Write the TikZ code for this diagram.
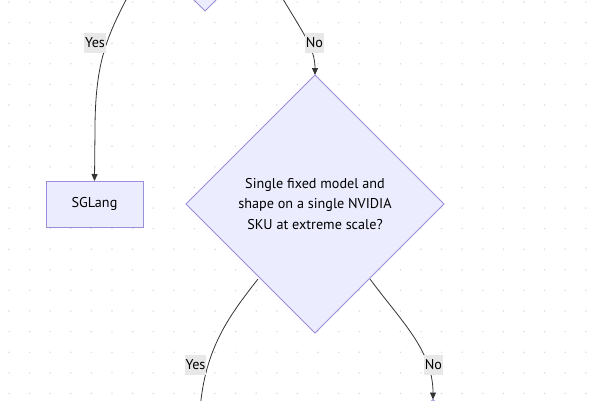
\documentclass[tikz,border=0pt]{standalone}
\usepackage{fontspec}
\setmainfont{PT Sans}
\usetikzlibrary{shapes.geometric,arrows.meta}
\definecolor{nodefill}{HTML}{ECECFF}
\definecolor{nodeline}{HTML}{9C8ED8}
\definecolor{edgecol}{HTML}{333333}
\definecolor{lblbg}{HTML}{E8E8E8}
\definecolor{dotcol}{HTML}{D9D9D9}
\tikzset{
  decision/.style={diamond, draw=nodeline, fill=nodefill, line width=0.75pt, inner sep=0pt, outer sep=0pt, aspect=1, align=center, font=\fontsize{14.2}{20.5}\selectfont},
  procbox/.style={rectangle, draw=nodeline, fill=nodefill, line width=0.75pt, inner sep=0pt, outer sep=0pt, minimum width=97pt, minimum height=46pt, font=\fontsize{14.2}{16}\selectfont},
  edge/.style={draw=edgecol, line width=0.8pt},
  arr/.style={edge, -{Triangle[length=7pt,width=6pt]}},
  lbl/.style={fill=lblbg, inner xsep=0.6pt, inner ysep=0pt, minimum height=20pt, font=\fontsize{14.2}{16}\selectfont, text=black}
}
\begin{document}
\begin{tikzpicture}[x=1pt,y=-1pt]
\useasboundingbox (0,0) rectangle (600,400);
\clip (0,0) rectangle (600,400);
\fill[white] (0,0) rectangle (600,400);
% dotted grid
\foreach \i in {0,...,29} {
  \foreach \j in {0,...,19} {
    \fill[dotcol] (9+20.6*\i, 2+20.6*\j) circle (0.8pt);
  }
}
% nodes
\node[decision, minimum width=200pt, minimum height=200pt, anchor=south] (d1) at (205,11) {};
\node[decision, minimum width=258pt, minimum height=258pt] (d2) at (315,204)
  {Single fixed model and\\shape on a single NVIDIA\\SKU at extreme scale?};
\node[procbox] (sg) at (94.5,204) {SGLang};
\node[decision, minimum width=200pt, minimum height=200pt, anchor=north] (d3) at (433,399.5) {};
% free ends of cut connectors
\coordinate (ya) at (129,-6);
\coordinate (na) at (280,-6);
\coordinate (yb) at (199.5,420);
% connectors
\draw[arr] (ya) .. controls (108,35) and (95,60) .. (95,130) -- (sg.north);
\draw[arr] (na) .. controls (303,33) and (315,48) .. (d2.north);
\draw[edge] (258,279) .. controls (230,315) and (202,350) .. (yb);
\draw[arr] (370,279) .. controls (400,320) and (433,350) .. (d3.north);
% labels
\node[lbl] (l1) at (95,43) {Yes};
\node[lbl] (l2) at (314.5,43) {No};
\node[lbl] (l3) at (195.5,364.5) {Yes};
\node[lbl] (l4) at (433.5,364.5) {No};
\end{tikzpicture}
\end{document}
